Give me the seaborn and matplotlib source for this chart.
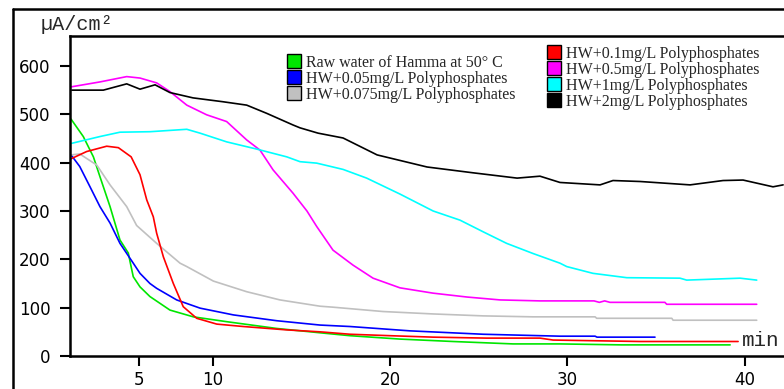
import matplotlib
matplotlib.use("Agg")
import matplotlib.pyplot as plt
from matplotlib.lines import Line2D
import seaborn as sns
import pandas as pd

# ---- data (minutes, µA/cm²) ----
raw_t = [1.99, 2.68, 3.25, 3.62, 4.19, 4.75, 5.22, 5.32, 5.50, 5.88, 6.44, 7.57, 8.89, 10.77, 13.59, 16.04, 17.73, 20.55, 23.54, 26.93, 29.58, 33.06, 39.18]
raw_v = [490, 454, 412, 371, 309, 240, 213, 195, 164, 143, 123, 95, 81, 71, 57, 48, 42, 35, 30, 25, 25, 23, 23]

hw005_t = [1.99, 2.48, 3.06, 3.62, 4.19, 4.75, 5.50, 5.88, 6.44, 6.82, 7.95, 9.27, 11.15, 13.59, 16.04, 17.73, 21.12, 25.24, 29.58, 31.56, 31.67, 34.94]
hw005_v = [416, 392, 350, 309, 275, 233, 192, 171, 150, 140, 116, 99, 85, 73, 64, 61, 52, 45, 41, 41, 39, 39]

hw0075_t = [1.99, 2.48, 3.44, 4.19, 5.13, 5.69, 6.82, 8.14, 8.52, 10.02, 11.90, 13.78, 16.04, 16.77, 19.59, 22.42, 25.24, 28.06, 31.56, 31.65, 35.89, 35.96, 40.68]
hw0075_v = [416, 418, 395, 354, 309, 270, 233, 192, 185, 155, 133, 116, 103, 101, 92, 87, 83, 81, 81, 78, 78, 74, 74]

hw01_t = [1.99, 2.87, 4.00, 4.66, 5.38, 5.88, 6.26, 6.63, 6.82, 7.20, 7.76, 8.32, 9.08, 10.21, 11.71, 14.16, 16.04, 17.73, 19.99, 22.42, 25.45, 28.45, 29.19, 34.10, 39.63]
hw01_v = [408, 423, 434, 431, 412, 375, 323, 288, 254, 205, 150, 102, 78, 66, 61, 54, 50, 45, 42, 39, 37, 37, 33, 30, 30]

hw05_t = [2.03, 3.62, 5.13, 5.88, 6.82, 7.57, 8.52, 9.64, 10.77, 11.90, 12.65, 13.39, 14.51, 15.30, 15.85, 16.77, 17.90, 19.03, 20.55, 22.42, 24.33, 26.20, 28.45, 31.50, 31.80, 32.10, 32.40, 35.50, 35.60, 40.68]
hw05_v = [557, 567, 578, 575, 565, 547, 519, 499, 485, 447, 426, 385, 337, 300, 268, 219, 188, 161, 141, 130, 122, 116, 114, 114, 111, 114, 111, 111, 107, 107]

hw1_t = [2.03, 3.62, 4.75, 6.44, 8.52, 9.27, 10.77, 12.47, 14.16, 14.91, 15.85, 17.34, 18.67, 20.55, 22.42, 23.94, 25.24, 26.57, 28.06, 29.58, 29.96, 31.44, 33.35, 36.35, 36.73, 39.74, 40.68]
hw1_v = [440, 454, 463, 464, 469, 461, 443, 428, 412, 402, 399, 386, 368, 335, 300, 281, 257, 233, 212, 192, 185, 171, 162, 161, 157, 161, 157]

hw2_t = [2.03, 3.81, 5.13, 5.88, 6.73, 7.57, 8.87, 10.56, 11.90, 13.03, 14.51, 14.91, 15.93, 17.34, 19.26, 22.08, 24.67, 27.16, 28.45, 29.58, 31.84, 32.57, 34.10, 36.92, 38.78, 39.91, 41.60, 42.17]
hw2_v = [550, 550, 563, 552, 561, 545, 534, 526, 519, 502, 478, 472, 461, 451, 416, 391, 379, 368, 372, 359, 354, 363, 361, 354, 363, 364, 350, 354]

labels = [
    "Raw water of Hamma at 50\u00b0 C",
    "HW+0.05mg/L Polyphosphates",
    "HW+0.075mg/L Polyphosphates",
    "HW+0.1mg/L Polyphosphates",
    "HW+0.5mg/L Polyphosphates",
    "HW+1mg/L Polyphosphates",
    "HW+2mg/L Polyphosphates",
]
colors = ["#00e600", "#0000ff", "#c0c0c0", "#ff0000", "#ff00ff", "#00ffff", "#000000"]
series_t = [raw_t, hw005_t, hw0075_t, hw01_t, hw05_t, hw1_t, hw2_t]
series_v = [raw_v, hw005_v, hw0075_v, hw01_v, hw05_v, hw1_v, hw2_v]

y_ticks = [0, 100, 200, 300, 400, 500, 600]
x_tick_pos = [5.82, 10, 20, 30, 40]
x_tick_labels = ["5", "10", "20", "30", "40"]

rows = []
for lab, ts, vs in zip(labels, series_t, series_v):
    for t, v in zip(ts, vs):
        rows.append({"t": t, "v": v, "series": lab})
df = pd.DataFrame(rows)

sns.set_style("white")
plt.rcParams["font.family"] = ["DejaVu Sans"]

fig = plt.figure(figsize=(7.84, 3.89), dpi=100)
W, H = 784, 389
ax = fig.add_axes([70 / W, (H - 356) / H, (W - 70) / W, (356 - 36) / H])

sns.lineplot(data=df, x="t", y="v", hue="series", hue_order=labels,
             palette=dict(zip(labels, colors)), estimator=None, sort=False,
             linewidth=1.2, legend=False, ax=ax)

ax.set_xlim(1.93, 42.22)
ax.set_ylim(0, 662)
ax.set_xlabel("")
ax.set_ylabel("")
ax.set_yticks(y_ticks)
ax.set_xticks(x_tick_pos)
ax.set_xticklabels(x_tick_labels)
ax.tick_params(axis="both", direction="out", length=7, width=1.5, colors="black",
               labelsize=12)
ax.tick_params(axis="y", pad=7)
ax.tick_params(axis="x", pad=4)
ax.tick_params(left=True, bottom=True)
for s in ["left", "bottom", "top"]:
    ax.spines[s].set_visible(True)
    ax.spines[s].set_linewidth(1.8)
    ax.spines[s].set_color("black")
ax.spines["right"].set_visible(False)
ax.grid(False)

# outer frame of the original figure
fig.add_artist(Line2D([13 / W, 13 / W], [0, 1 - 9 / H], color="black", lw=1.8,
                      transform=fig.transFigure))
fig.add_artist(Line2D([13 / W, 1], [1 - 9 / H, 1 - 9 / H], color="black", lw=1.8,
                      transform=fig.transFigure))

fig.text(41 / W, 1 - 25 / H, "\u00b5A/cm\u00b2", family="Liberation Mono",
         fontsize=14.5, va="center", ha="left")
fig.text(742 / W, 1 - 340 / H, "min", family="Liberation Mono",
         fontsize=15, va="center", ha="left")

def handles_for(idx):
    return [Line2D([0], [0], marker="s", linestyle="none", markersize=10,
                   markerfacecolor=colors[i], markeredgecolor="black",
                   markeredgewidth=1.0) for i in idx]

leg_font = {"family": "Liberation Serif", "size": 11.5}
left_idx = [0, 1, 2]
right_idx = [3, 4, 5, 6]
leg1 = fig.legend(handles_for(left_idx), [labels[i] for i in left_idx],
                  loc="upper left", bbox_to_anchor=(288 / W, 1 - 55 / H),
                  frameon=False, borderpad=0, borderaxespad=0,
                  handlelength=0.8, handletextpad=0.3, labelspacing=0.0,
                  prop=leg_font)
leg2 = fig.legend(handles_for(right_idx), [labels[i] for i in right_idx],
                  loc="upper left", bbox_to_anchor=(548 / W, 1 - 46 / H),
                  frameon=False, borderpad=0, borderaxespad=0,
                  handlelength=0.8, handletextpad=0.3, labelspacing=0.0,
                  prop=leg_font)

fig.savefig("out.png", dpi=100)
